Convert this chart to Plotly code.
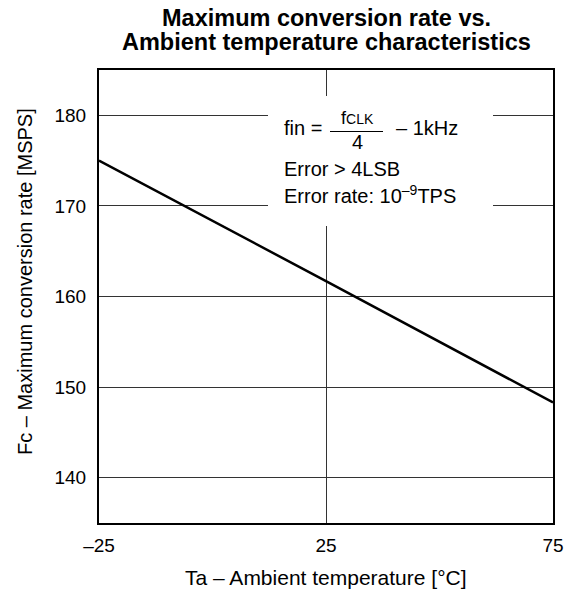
import plotly.graph_objects as go

# ---- data ----
temperature = [-25, 25, 75]
conversion_rate = [175.0, 161.7, 148.3]
x_tick_vals = [-25, 25, 75]
x_tick_text = ["–25", "25", "75"]
y_tick_vals = [140, 150, 160, 170, 180]
y_tick_text = ["140", "150", "160", "170", "180"]

title_lines = ["Maximum conversion rate vs.", "Ambient temperature characteristics"]
x_title = "Ta – Ambient temperature [°C]"
y_title = "Fc – Maximum conversion rate [MSPS]"

FONT = "Liberation Sans, Arial, Helvetica, sans-serif"
W, H = 569, 594
L, R, T, B = 99, 16, 70, 71
PW, PH = W - L - R, H - T - B


def px(x):
    return (x - L) / PW


def py(y):
    return (H - B - y) / PH


fig = go.Figure()
fig.add_trace(go.Scatter(
    x=temperature, y=conversion_rate, mode="lines",
    line=dict(color="black", width=2.5),
    showlegend=False, hoverinfo="skip",
))

annotations = [
    dict(text="<b>%s</b>" % title_lines[0], x=0.5, y=py(18), xanchor="center", yanchor="middle",
         font=dict(size=23.5, family=FONT, color="black")),
    dict(text="<b>%s</b>" % title_lines[1], x=0.5, y=py(42), xanchor="center", yanchor="middle",
         font=dict(size=23.5, family=FONT, color="black")),
    dict(text=y_title, x=px(25), y=py(282), xanchor="center", yanchor="middle", textangle=-90,
         font=dict(size=20, family=FONT, color="black")),
    dict(text=x_title, x=0.5, y=py(577), xanchor="center", yanchor="middle",
         font=dict(size=21, family=FONT, color="black")),
    # condition box text
    dict(text="fin =", x=px(282), y=py(128), xanchor="left", yanchor="middle",
         font=dict(size=20, family=FONT, color="black")),
    dict(text="f<span style='font-size:14px'>CLK</span>", x=px(357), y=py(118), xanchor="center", yanchor="middle",
         font=dict(size=18, family=FONT, color="black")),
    dict(text="4", x=px(357), y=py(142), xanchor="center", yanchor="middle",
         font=dict(size=20, family=FONT, color="black")),
    dict(text="– 1kHz", x=px(394), y=py(128), xanchor="left", yanchor="middle",
         font=dict(size=20, family=FONT, color="black")),
    dict(text="Error > 4LSB", x=px(282), y=py(169), xanchor="left", yanchor="middle",
         font=dict(size=20, family=FONT, color="black")),
    dict(text="Error rate: 10<sup>–9</sup>TPS", x=px(282), y=py(194), xanchor="left", yanchor="middle",
         font=dict(size=20, family=FONT, color="black")),
]
for a in annotations:
    a.update(xref="paper", yref="paper", showarrow=False)

shapes = [
    dict(type="rect", xref="paper", yref="paper", x0=px(268), x1=px(493), y0=py(226), y1=py(96),
         fillcolor="white", line=dict(width=0), layer="above"),
    dict(type="line", xref="paper", yref="paper", x0=px(330), x1=px(383), y0=py(131.5), y1=py(131.5),
         line=dict(color="black", width=1), layer="above"),
]

axis_common = dict(
    showgrid=True, gridcolor="#333333", gridwidth=1,
    showline=True, linecolor="black", linewidth=2, mirror=True,
    zeroline=False, ticks="",
    tickfont=dict(size=19, family=FONT, color="black"),
)

fig.update_layout(
    width=W, height=H,
    margin=dict(l=L, r=R, t=T, b=B, autoexpand=False),
    paper_bgcolor="white", plot_bgcolor="white",
    font=dict(family=FONT, color="black"),
    xaxis=dict(range=[-25, 75], tickmode="array", tickvals=x_tick_vals, ticktext=x_tick_text,
               ticklabelstandoff=4, **axis_common),
    yaxis=dict(range=[135, 185], tickmode="array", tickvals=y_tick_vals, ticktext=y_tick_text,
               ticklabelstandoff=7, **axis_common),
    annotations=annotations,
    shapes=shapes,
)

fig.write_html(
    "out.html",
    config={"displayModeBar": False},
    post_script="document.body.style.margin='0';document.body.style.overflow='hidden';",
)
